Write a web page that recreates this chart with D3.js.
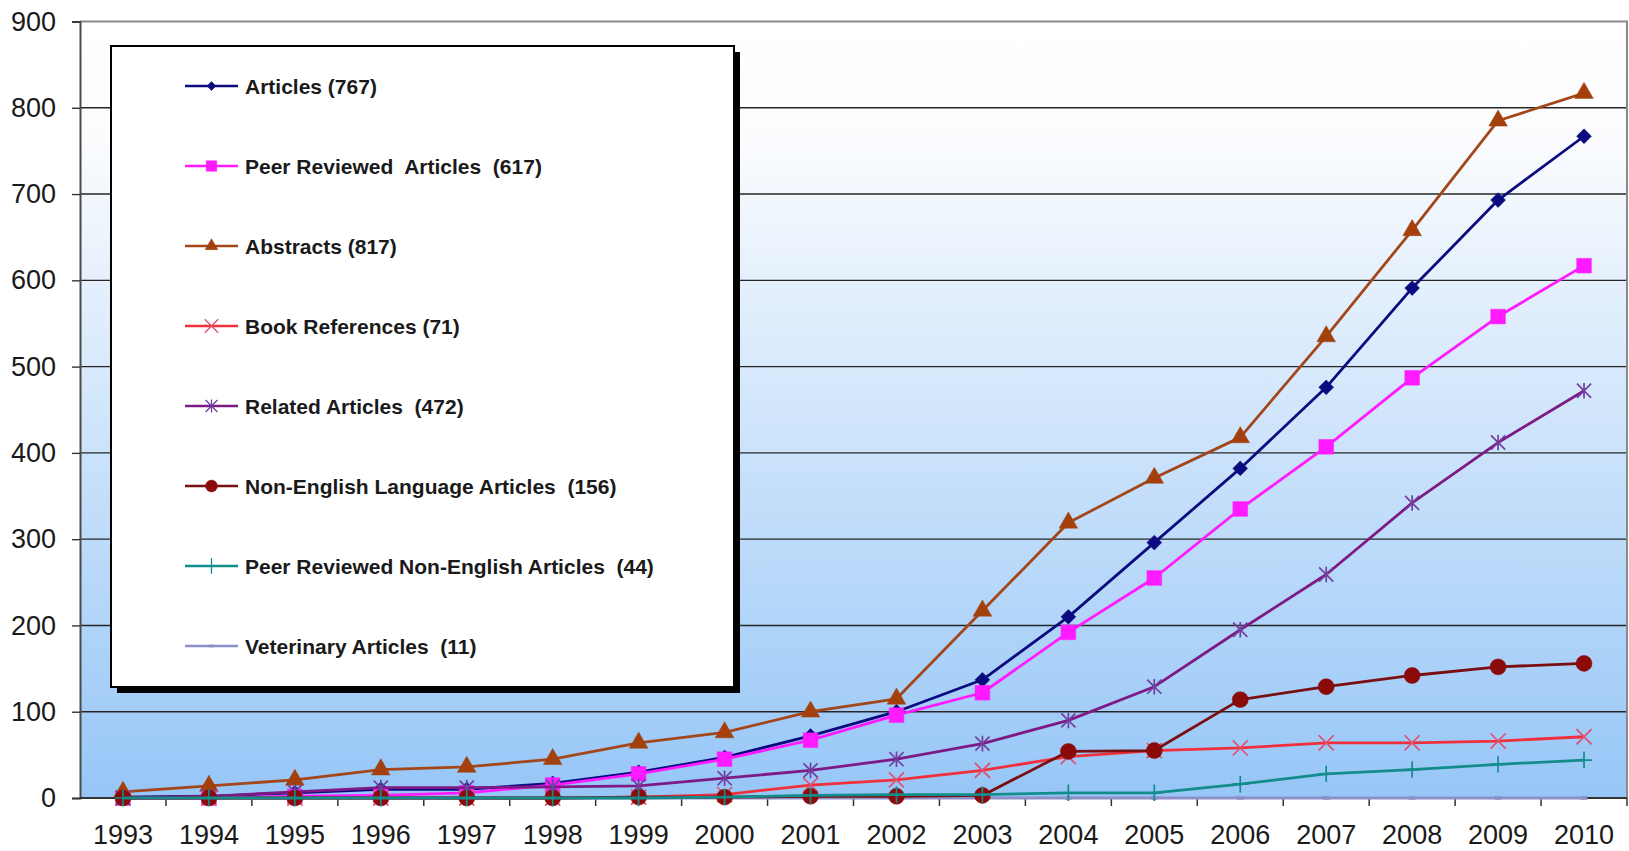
<!DOCTYPE html>
<html>
<head>
<meta charset="utf-8">
<script src="https://cdn.jsdelivr.net/npm/d3@7"></script>
<style>
  body { margin: 0; background: #fff; }
  svg { display: block; font-family: "Liberation Sans", Arial, sans-serif; }
</style>
</head>
<body>
<div id="host"></div>
<script>
// Data (cumulative counts per year)
const years = [1993, 1994, 1995, 1996, 1997, 1998, 1999, 2000, 2001,
    2002, 2003, 2004, 2005, 2006, 2007, 2008, 2009, 2010];
const articles = [1, 2, 6, 10, 10, 17, 30, 47, 72, 100, 137, 210, 296, 382, 476, 591, 693, 767];
const peerReviewed = [0, 0, 2, 3, 6, 15, 28, 45, 67, 96, 122, 192, 255, 335, 407, 487, 558, 617];
const abstracts = [7, 14, 21, 33, 36, 45, 64, 76, 100, 115, 217, 319, 371, 418, 535, 658, 785, 817];
const bookRefs = [0, 0, 0, 0, 0, 0, 1, 4, 15, 21, 32, 48, 55, 58, 64, 64, 66, 71];
const related = [0, 2, 7, 12, 12, 13, 14, 23, 32, 45, 63, 90, 129, 195, 259, 342, 412, 472];
const nonEnglish = [0, 0, 0, 0, 0, 0, 1, 1, 2, 2, 3, 54, 55, 114, 129, 142, 152, 156];
const peerNonEnglish = [0, 0, 0, 0, 0, 0, 0, 1, 3, 4, 4, 6, 6, 16, 28, 33, 39, 44];
const veterinary = [0, 0, 0, 0, 0, 0, 0, 0, 0, 0, 0, 0, 0, 0, 0, 0, 0, 0];
const yTicks = [0, 100, 200, 300, 400, 500, 600, 700, 800, 900];

// asterisk marker: an X with a vertical bar through it
const symbolStar = {
    draw(ctx, size) {
        const r = Math.sqrt(size) / 2;
        ctx.moveTo(-r, -r); ctx.lineTo(r, r);
        ctx.moveTo(-r, r); ctx.lineTo(r, -r);
        ctx.moveTo(0, -r * 1.1); ctx.lineTo(0, r * 1.1);
    }
};
const symbolDash = {
    draw(ctx, size) {
        const r = Math.sqrt(size) / 2;
        ctx.rect(-r, -r / 2, 2 * r, r);
    }
};

const series = [
    {name: "Articles (767)", values: articles, color: "#0b0b80", marker: "#0b0b80",
        symbol: d3.symbolSquare, size: 110, rotate: 45, fill: true, legendSize: 40},
    {name: "Peer Reviewed  Articles  (617)", values: peerReviewed, color: "#ff1aff", marker: "#ff1aff",
        symbol: d3.symbolSquare, size: 215, fill: true, legendSize: 110},
    {name: "Abstracts (817)", values: abstracts, color: "#a3471b", marker: "#a3400c",
        symbol: d3.symbolTriangle, size: 150, fill: true, legendSize: 70},
    {name: "Book References (71)", values: bookRefs, color: "#f0303c", marker: "#e05070",
        symbol: d3.symbolX, size: 150, fill: false, legendSize: 120},
    {name: "Related Articles  (472)", values: related, color: "#7d1a85", marker: "#7040a0",
        symbol: symbolStar, size: 200, fill: false, legendSize: 140},
    {name: "Non-English Language Articles  (156)", values: nonEnglish, color: "#7a0f12", marker: "#8b0a0a",
        symbol: d3.symbolCircle, size: 200, fill: true, legendSize: 110},
    {name: "Peer Reviewed Non-English Articles  (44)", values: peerNonEnglish, color: "#138c8c", marker: "#138c8c",
        symbol: d3.symbolPlus, size: 90, fill: false, legendSize: 80},
    {name: "Veterinary Articles  (11)", values: veterinary, color: "#8e8ec8", marker: "#8e8ec8",
        symbol: symbolDash, size: 40, fill: true, legendSize: 20}
];

const width = 1629;
const height = 851;
const plotLeft = 80, plotRight = 1627, plotTop = 21.5, plotBottom = 798;

const svg = d3.select("#host").append("svg")
    .attr("width", width)
    .attr("height", height);

const x = d3.scaleBand().domain(years).range([plotLeft, plotRight]);
const xc = d => x(d) + x.bandwidth() / 2;
const y = d3.scaleLinear().domain([0, 900]).range([plotBottom, plotTop]);

// Plot background gradient
const grad = svg.append("defs").append("linearGradient")
    .attr("id", "bg").attr("x1", 0).attr("y1", 0).attr("x2", 0).attr("y2", 1);
grad.append("stop").attr("offset", "0%").attr("stop-color", "#ffffff");
grad.append("stop").attr("offset", "15%").attr("stop-color", "#fbfcfe");
grad.append("stop").attr("offset", "100%").attr("stop-color", "#96c6f7");

svg.append("rect")
    .attr("x", plotLeft).attr("y", plotTop)
    .attr("width", plotRight - plotLeft).attr("height", plotBottom - plotTop)
    .attr("fill", "url(#bg)");

// Gridlines
svg.append("g").selectAll("line")
    .data(yTicks.filter(t => t > 0 && t < 900))
    .join("line")
    .attr("x1", plotLeft).attr("x2", plotRight)
    .attr("y1", d => y(d)).attr("y2", d => y(d))
    .attr("stroke", "#262626").attr("stroke-width", 1.4);

// Top and right border
svg.append("path")
    .attr("d", `M${plotLeft},${y(900)}H${plotRight}V${plotBottom}`)
    .attr("fill", "none").attr("stroke", "#8a8a8a").attr("stroke-width", 2);

// Y axis
const yAxis = svg.append("g")
    .attr("transform", `translate(${plotLeft},0)`)
    .call(d3.axisLeft(y).tickValues(yTicks).tickSize(8).tickPadding(16));
yAxis.select(".domain").attr("stroke", "#4a4a4a").attr("stroke-width", 2);
yAxis.selectAll(".tick line").attr("stroke", "#333").attr("stroke-width", 1.4);
yAxis.selectAll("text").attr("font-size", 27).attr("fill", "#1a1a1a")
    .attr("font-family", "'Liberation Sans', Arial, sans-serif");

// X axis labels
const xAxis = svg.append("g")
    .attr("transform", `translate(0,${plotBottom})`)
    .call(d3.axisBottom(x).tickSize(0).tickPadding(27));
xAxis.select(".domain").remove();
xAxis.selectAll("text").attr("font-size", 27).attr("fill", "#1a1a1a")
    .attr("font-family", "'Liberation Sans', Arial, sans-serif");

// X axis line and boundary ticks
svg.append("line")
    .attr("x1", plotLeft).attr("x2", plotRight)
    .attr("y1", plotBottom).attr("y2", plotBottom)
    .attr("stroke", "#333").attr("stroke-width", 2);
svg.append("g").selectAll("line")
    .data(years.slice(1))
    .join("line")
    .attr("x1", d => x(d)).attr("x2", d => x(d))
    .attr("y1", plotBottom).attr("y2", plotBottom + 8)
    .attr("stroke", "#333").attr("stroke-width", 1.5);
svg.append("line")
    .attr("x1", plotRight).attr("x2", plotRight)
    .attr("y1", plotBottom).attr("y2", plotBottom + 8)
    .attr("stroke", "#333").attr("stroke-width", 1.5);

// Lines and markers; veterinary drawn first so it sits underneath
const drawOrder = [7, 0, 1, 2, 3, 4, 5, 6];
const line = d3.line().x((d, i) => xc(years[i])).y(d => y(d));

function symbolPath(s, size) {
    return d3.symbol().type(s.symbol).size(size)();
}

for (const k of drawOrder) {
    const s = series[k];
    const g = svg.append("g");
    g.append("path")
        .attr("d", line(s.values))
        .attr("fill", "none")
        .attr("stroke", s.color)
        .attr("stroke-width", 2.8)
        .attr("stroke-linejoin", "round");
    g.selectAll("path.m")
        .data(s.values)
        .join("path")
        .attr("class", "m")
        .attr("d", symbolPath(s, s.size))
        .attr("transform", (d, i) => `translate(${xc(years[i])},${y(d)}) rotate(${s.rotate || 0})`)
        .attr("fill", s.fill ? s.marker : "none")
        .attr("stroke", s.marker)
        .attr("stroke-width", s.fill ? 0.5 : 1.7);
}

// Legend box with drop shadow
const legendX = 111, legendY = 46, legendW = 623, legendH = 641;
svg.append("rect")
    .attr("x", legendX + 6).attr("y", legendY + 6)
    .attr("width", legendW).attr("height", legendH)
    .attr("fill", "#000");
svg.append("rect")
    .attr("x", legendX).attr("y", legendY)
    .attr("width", legendW).attr("height", legendH)
    .attr("fill", "#fff").attr("stroke", "#000").attr("stroke-width", 2);

const legend = svg.append("g")
    .selectAll("g")
    .data(series)
    .join("g")
    .attr("transform", (d, i) => `translate(0,${86 + i * 80})`);
legend.append("line")
    .attr("x1", 185).attr("x2", 238)
    .attr("stroke", d => d.color).attr("stroke-width", 2.4);
legend.append("path")
    .attr("d", d => symbolPath(d, d.legendSize))
    .attr("transform", d => `translate(211.5,0) rotate(${d.rotate || 0})`)
    .attr("fill", d => d.fill ? d.marker : "none")
    .attr("stroke", d => d.marker)
    .attr("stroke-width", d => d.fill ? 0.5 : 1.3);
legend.append("text")
    .attr("x", 245)
    .attr("dy", "0.36em")
    .attr("font-size", 21)
    .attr("font-weight", "bold")
    .attr("fill", "#1a1a1a")
    .style("white-space", "pre")
    .text(d => d.name);
</script>
</body>
</html>
